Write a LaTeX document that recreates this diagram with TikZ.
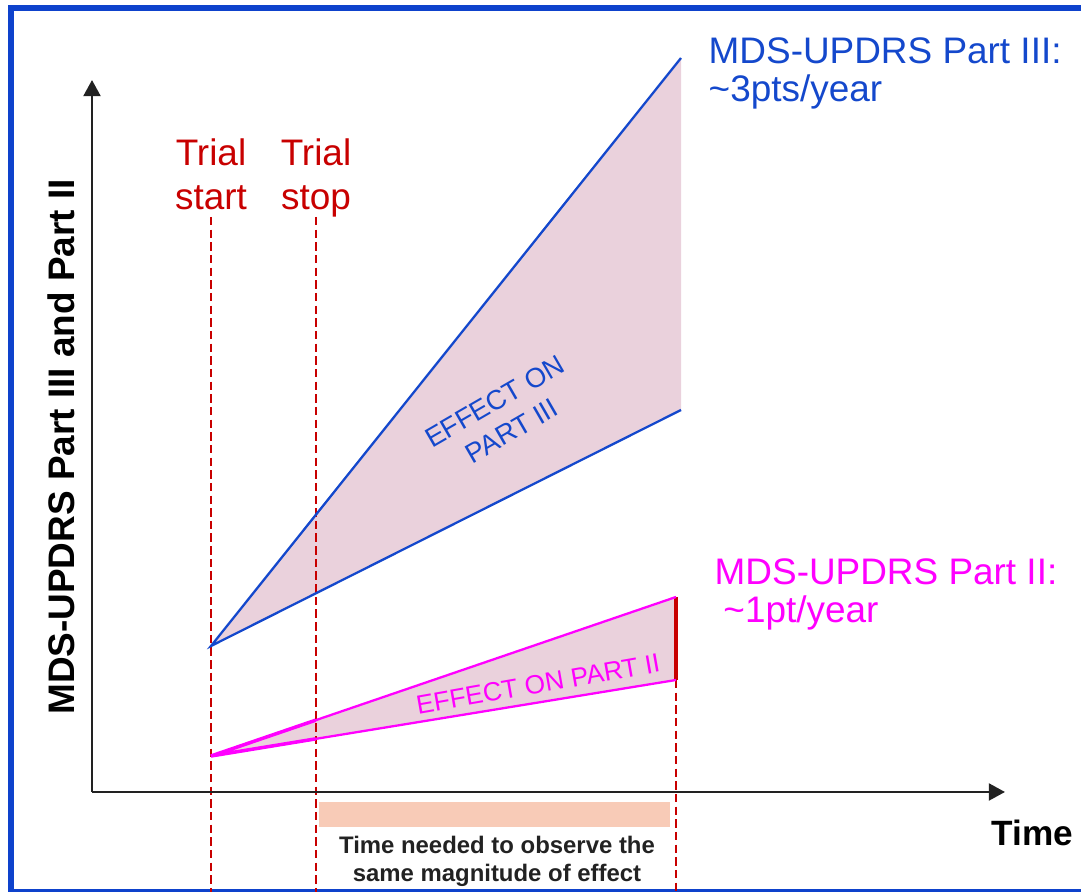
\documentclass[tikz,border=0pt]{standalone}
\usepackage{fontspec}
\setmainfont{Liberation Sans}
\usetikzlibrary{arrows.meta,calc}
\definecolor{frameblue}{RGB}{14,66,204}
\definecolor{pIII}{RGB}{20,72,204}
\definecolor{pII}{RGB}{255,0,255}
\definecolor{trialred}{RGB}{200,0,0}
\definecolor{effect}{RGB}{234,209,220}
\definecolor{salmon}{RGB}{248,203,183}
\definecolor{axis}{RGB}{34,34,34}

\begin{document}
\begin{tikzpicture}[x=0.01cm, y=-0.01cm,
		ax/.style={draw=axis, line width=0.75pt, -{Triangle[length=4.6pt, width=4.8pt]}},
		trial/.style={draw=trialred, line width=0.7pt, dash pattern=on 2.4pt off 1.2pt},
		trialtxt/.style={text=trialred, anchor=north, inner sep=0pt, align=center, font=\fontsize{10.5}{12.5}\selectfont},
		rate/.style={anchor=north west, inner sep=0pt, align=left, font=\fontsize{10.5}{10.8}\selectfont},
		p3/.style={draw=pIII, line width=0.65pt},
		p2/.style={draw=pII, line width=0.65pt}]
	\useasboundingbox (0,0) rectangle (1081,892);
	\draw[frameblue, line width=1.7pt] (1100,892) -- (11,892) -- (11,8) -- (1100,8);

	\coordinate (O) at (92,792);
	\coordinate (ytip) at (92,80);
	\coordinate (xtip) at (1005,792);
	\coordinate (bot) at (0,892);
	\coordinate (dtop) at (0,217);

	\coordinate (s3) at (211,646);
	\coordinate (hi3) at (681,58);
	\coordinate (lo3) at (681,410);
	\coordinate (s2) at (211,756);
	\coordinate (hi2) at (676,597);
	\coordinate (lo2) at (676,680);

	\fill[effect] (s3) -- (hi3) -- (lo3) -- cycle;
	\fill[effect] (s2) -- (hi2) -- (lo2) -- cycle;
	\fill[salmon] (319,802) rectangle (670,827);

	\node[trialtxt] (tstart) at (211,138) {Trial\\start};
	\node[trialtxt] (tstop) at (316,138) {Trial\\stop};
	\draw[trial] (tstart.south |- dtop) -- (tstart.south |- bot);
	\draw[trial] (tstop.south |- dtop) -- (tstop.south |- bot);
	\draw[trial] (lo2) -- (lo2 |- bot);
	\draw[trialred, line width=0.9pt] (hi2) -- (lo2);

	\draw[p3] (hi3) -- (s3) -- (lo3);
	\draw[p2] (hi2) -- (s2) -- (lo2);
	\draw[p2, line width=1pt] ($(s2)!0.225!(hi2)$) -- (s2) -- ($(s2)!0.225!(lo2)$);

	\draw[ax] (O) -- (ytip);
	\draw[ax] (O) -- (xtip);

	\node[rate, text=pIII] (rate3) at (708,37) {MDS-UPDRS Part III:\\\textasciitilde3pts/year};
	\node[rate, text=pII] (rate2) at (714,558) {MDS-UPDRS Part II:\\\hspace{2.5pt}\textasciitilde1pt/year};
	\node[rotate=30, text=pIII, align=center, font=\fontsize{7.8}{9.6}\selectfont] (eff3) at (503,416) {EFFECT ON\\PART III};
	\node[rotate=10, text=pII, font=\fontsize{7.5}{9}\selectfont] (eff2) at (538,684) {EFFECT ON PART II};

	\node[anchor=north, inner sep=0pt, text=axis, align=center, font=\bfseries\fontsize{6.8}{8}\selectfont] (need) at (497,835) {Time needed to observe the\\same magnitude of effect};
	\node[anchor=north west, inner sep=0pt, font=\bfseries\fontsize{10}{12}\selectfont] (time) at (991,819) {Time};
	\node[rotate=90, anchor=base, inner sep=0pt, font=\bfseries\fontsize{10.5}{12}\selectfont] (ylab) at (74,447) {MDS-UPDRS Part III and Part II};
\end{tikzpicture}
\end{document}
